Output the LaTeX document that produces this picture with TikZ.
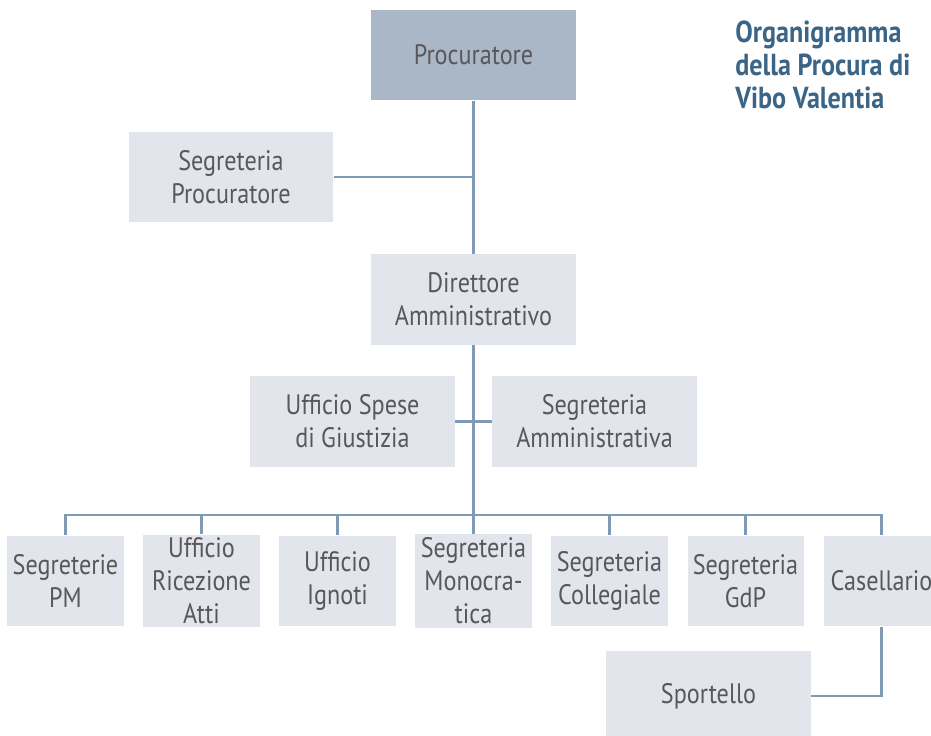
\documentclass[tikz,border=0pt]{standalone}
\usepackage{fontspec}
\setmainfont[FakeStretch=0.86]{PT Sans}
\usetikzlibrary{positioning}
\definecolor{slate}{RGB}{170,183,199}
\definecolor{mist}{RGB}{226,229,236}
\definecolor{wire}{RGB}{127,154,179}
\definecolor{ink}{RGB}{88,88,90}
\definecolor{heading}{RGB}{58,101,135}
\tikzset{
  unit/.style={fill=#1,text=ink,minimum width=4.1cm,minimum height=1.82cm,
    align=center,inner sep=2pt,font=\fontsize{16}{18.7}\selectfont},
  unit/.default=mist,
  office/.style={unit,minimum width=2.3cm,text width=2.18cm},
  link/.style={draw=wire,line width=1.3pt},
  title/.style={text=heading,align=left,anchor=north west,inner sep=0pt,
    font=\bfseries\fontsize{17.3}{18.8}\selectfont},
}
\begin{document}
\begin{tikzpicture}[x=0.02cm,y=-0.02cm]
  \clip (0,0) rectangle (931,736);
  \fill[white] (0,0) rectangle (931,736);
  % top of the tree
  \node[unit=slate] (proc) at (473.5,55) {Procuratore};
  \node[unit] (segproc) at (231,177) {Segreteria\\Procuratore};
  \node[unit] (dir) at (473.5,299.5) {Direttore\\Amministrativo};
  \node[unit] (spese) at (352.5,421.5) {Ufficio Spese\\di Giustizia};
  \node[unit] (segamm) at (594.5,421.5) {Segreteria\\Amministrativa};
  % bottom row
  \node[office] (pm) at (65.5,581) {Segreterie\\PM};
  \node[office] (ric) at (201.5,581) {Ufficio\\Ricezione\\Atti};
  \node[office] (ign) at (337.5,581) {Ufficio\\Ignoti};
  \node[office] (mono) at (473.5,581) {Segreteria\\Monocra-\\tica};
  \node[office] (coll) at (609.5,581) {Segreteria\\Collegiale};
  \node[office] (gdp) at (745.5,581) {Segreteria\\GdP};
  \node[office] (cas) at (881.5,581) {Casellario};
  \node[unit] (sport) at (708.5,696) {Sportello};
  \node[title] at (735,20) {Organigramma\\della Procura di\\Vibo Valentia};
  % connectors
  \coordinate (bus) at (473.5,515);
  \draw[link] (proc) -- (dir);
  \draw[link] (segproc.east) -- (segproc.east -| proc);
  \draw[link] (dir) -- (bus);
  \draw[link] (spese) -- (segamm);
  \draw[link] (pm.north) |- (bus) -| (cas.north);
  \foreach \n in {ric,ign,mono,coll,gdp}
    \draw[link] (\n.north) -- (\n.north |- bus);
  \draw[link] (cas.south) |- (sport.east);
\end{tikzpicture}
\end{document}
